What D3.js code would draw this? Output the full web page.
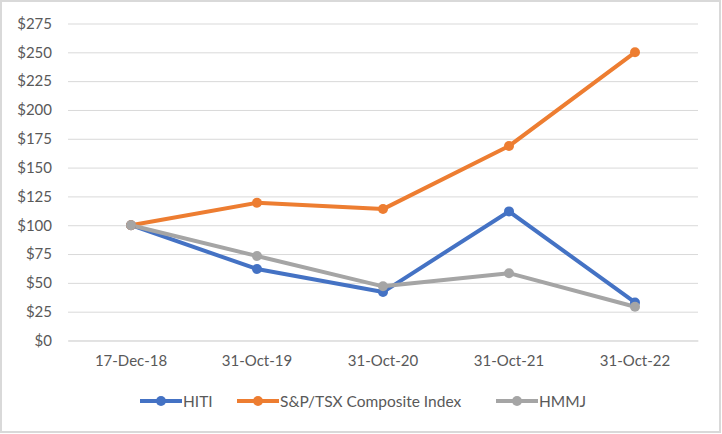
<!DOCTYPE html>
<html><head><meta charset="utf-8">
<script src="https://cdn.jsdelivr.net/npm/d3@7"></script>
<style>body{margin:0;background:#fff}svg{display:block}text{font-family:Lato,"Open Sans",sans-serif;fill:#595959}</style>
</head><body><svg id="c" width="722" height="434"></svg>
<script>
const categories = ["17-Dec-18","31-Oct-19","31-Oct-20","31-Oct-21","31-Oct-22"];
const hiti = [100, 62, 42, 112, 33];
const tsx = [100, 119.5, 114, 168.7, 250];
const hmmj = [100, 73.3, 47, 58.4, 29.3];
const yTicks = [0,25,50,75,100,125,150,175,200,225,250,275];
const seriesNames = ["HITI","S&P/TSX Composite Index","HMMJ"];
const colors = ["#4472C4","#ED7D31","#A5A5A5"];

const svg = d3.select("#c");
svg.append("rect").attr("x",1).attr("y",1).attr("width",719).attr("height",431)
  .attr("fill","#fff").attr("stroke","#d9d9d9").attr("stroke-width",2);

const x = d3.scaleBand().domain(categories).range([68,698]);
const y = d3.scaleLinear().domain([0,275]).range([340.5,23.5]);

const yAxis = svg.append("g").attr("transform","translate(68,0)")
  .call(d3.axisLeft(y).tickValues(yTicks).tickFormat(d=>"$"+d).tickSize(-630).tickPadding(16));
yAxis.select(".domain").remove();
yAxis.selectAll("line").attr("stroke","#d9d9d9").attr("stroke-width",1);
yAxis.selectAll("text").attr("font-size",15).style("fill","#595959");

const xAxis = svg.append("g").attr("transform","translate(0,340.5)")
  .call(d3.axisBottom(x).tickSize(0).tickPadding(15));
xAxis.select(".domain").attr("stroke","#d9d9d9");
xAxis.selectAll("text").attr("font-size",15).style("fill","#595959");

const data = [hiti, tsx, hmmj];
const line = d3.line().x((d,i)=>x(categories[i])+x.bandwidth()/2).y(d=>y(d));
data.forEach((s,k)=>{
  svg.append("path").datum(s).attr("d",line).attr("fill","none")
    .attr("stroke",colors[k]).attr("stroke-width",4).attr("stroke-linejoin","round").attr("stroke-linecap","round");
});
data.forEach((s,k)=>{
  svg.append("g").selectAll("circle").data(s).join("circle")
    .attr("cx",(d,i)=>x(categories[i])+x.bandwidth()/2).attr("cy",d=>y(d)).attr("r",5)
    .attr("fill",colors[k]);
});

const legX = [140, 237, 496];
const leg = svg.append("g");
seriesNames.forEach((n,k)=>{
  const g = leg.append("g").attr("transform",`translate(${legX[k]},401)`);
  g.append("line").attr("x1",0).attr("x2",42).attr("stroke",colors[k]).attr("stroke-width",4);
  g.append("circle").attr("cx",21).attr("r",5).attr("fill",colors[k]);
  g.append("text").attr("x",43).attr("y",5.5).attr("font-size",15.5).text(n);
});
</script></body></html>
